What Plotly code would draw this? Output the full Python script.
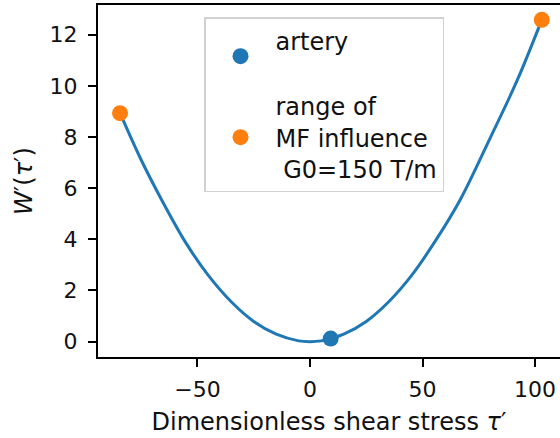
import plotly.graph_objects as go

# curve W'(tau')
tau = [-84.4, -75.0, -65.9, -55.0, -45.0, -35.0, -25.0, -15.0, -5.0, 0.0, 5.0, 9.2,
       15.0, 25.0, 35.0, 45.0, 55.0, 66.7, 80.0, 92.0, 103.0]
w = [8.93, 7.10, 5.54, 3.84, 2.57, 1.56, 0.79, 0.29, 0.03, 0.0, 0.03, 0.12,
     0.29, 0.79, 1.56, 2.57, 3.84, 5.54, 7.95, 10.20, 12.58]

artery_tau = [9.2]
artery_w = [0.12]

range_tau = [-84.4, 103.0]
range_w = [8.93, 12.58]

x_ticks = [-50, 0, 50, 100]
y_ticks = [0, 2, 4, 6, 8, 10, 12]

BLUE = "#1f77b4"
ORANGE = "#ff7f0e"
FONT = "DejaVu Sans"

fig = go.Figure()
fig.add_trace(go.Scatter(x=tau, y=w, mode="lines", line=dict(color=BLUE, width=3, shape="spline"),
                         showlegend=False, hoverinfo="skip"))
fig.add_trace(go.Scatter(x=artery_tau, y=artery_w, mode="markers",
                         marker=dict(color=BLUE, size=16), name="artery<br> "))
fig.add_trace(go.Scatter(x=range_tau, y=range_w, mode="markers",
                         marker=dict(color=ORANGE, size=16),
                         name="range of<br>MF influence<br> G0=150 T/m"))

fig.update_layout(
    width=560, height=438,
    margin=dict(l=98, r=0, t=5, b=81),
    plot_bgcolor="white", paper_bgcolor="white",
    font=dict(family=FONT, size=22, color="#111"),
    showlegend=True,
    legend=dict(x=(204 - 98) / 462, y=(357 - 17) / 352, xanchor="left", yanchor="top",
                bordercolor="#d0d0d0", borderwidth=1.5, bgcolor="rgba(255,255,255,0.8)",
                font=dict(family=FONT, size=24, color="#111"), itemwidth=60,
                traceorder="normal"),
)
fig.update_xaxes(range=[-94.2, 111.1], tickvals=x_ticks, ticktext=["−50", "0", "50", "100"],
                 showgrid=False, zeroline=False, showline=True, linecolor="#000", linewidth=2,
                 mirror=True, ticks="outside", ticklen=8, tickwidth=2, tickcolor="#000",
                 ticklabelstandoff=4,
                 title=dict(text="Dimensionless shear stress <i>τ</i>′",
                            font=dict(family=FONT, size=24), standoff=12))
fig.update_yaxes(range=[-0.6, 13.16], tickvals=y_ticks,
                 showgrid=False, zeroline=False, showline=True, linecolor="#000", linewidth=2,
                 mirror=False, ticks="outside", ticklen=8, tickwidth=2, tickcolor="#000",
                 ticklabelstandoff=6,
                 title=dict(text="<i>W</i>′(<i>τ</i>′)", font=dict(family=FONT, size=24), standoff=10))

fig.write_html("out.html")
